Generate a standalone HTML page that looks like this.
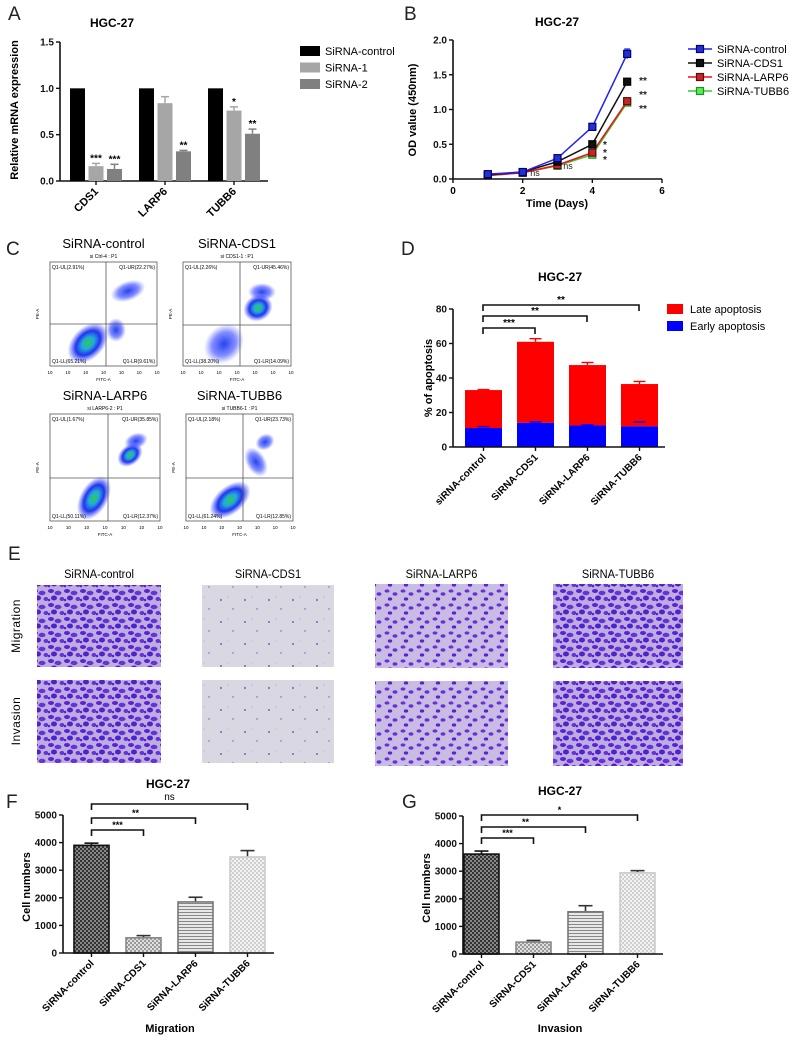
<!DOCTYPE html>
<html><head><meta charset="utf-8">
<style>
html,body{margin:0;padding:0;background:#fff;}
svg{display:block;font-family:"Liberation Sans",Arial,sans-serif;}
</style></head>
<body>
<svg id="fig" width="795" height="1044" viewBox="0 0 795 1044" xmlns="http://www.w3.org/2000/svg">
<defs>
<pattern id="pDark" width="4" height="4" patternUnits="userSpaceOnUse"><rect width="4" height="4" fill="#888"/><rect width="2" height="2" fill="#333"/><rect x="2" y="2" width="2" height="2" fill="#333"/></pattern>
<pattern id="pLight" width="4" height="4" patternUnits="userSpaceOnUse"><rect width="4" height="4" fill="#e0e0e0"/><rect width="2" height="2" fill="#999"/><rect x="2" y="2" width="2" height="2" fill="#999"/></pattern>
<pattern id="pStripe" width="4" height="3" patternUnits="userSpaceOnUse"><rect width="4" height="3" fill="#e8e8e8"/><rect width="4" height="1" fill="#888"/></pattern>
<pattern id="pVLight" width="4" height="4" patternUnits="userSpaceOnUse"><rect width="4" height="4" fill="#f2f2f2"/><rect width="2" height="2" fill="#cfcfcf"/><rect x="2" y="2" width="2" height="2" fill="#cfcfcf"/></pattern>
<pattern id="mDense" width="16" height="14" patternUnits="userSpaceOnUse"><rect width="16" height="14" fill="#bcaee0"/><ellipse cx="3" cy="3" rx="3" ry="2" fill="#5a22d0"/><ellipse cx="10" cy="5" rx="3.5" ry="2.2" fill="#6a30d8"/><ellipse cx="6" cy="10" rx="3" ry="2.5" fill="#5020c8"/><ellipse cx="14" cy="11" rx="2.5" ry="2" fill="#6a30d8"/><circle cx="1" cy="12" r="1.3" fill="#5a22d0"/></pattern>
<pattern id="mMed" width="16" height="14" patternUnits="userSpaceOnUse"><rect width="16" height="14" fill="#c8bce4"/><ellipse cx="3" cy="3" rx="2.5" ry="1.6" fill="#6a30d8"/><ellipse cx="11" cy="6" rx="2.5" ry="1.8" fill="#6a30d8"/><ellipse cx="6" cy="11" rx="2.2" ry="1.6" fill="#5a22d0"/></pattern>
<pattern id="mSparse" width="24" height="22" patternUnits="userSpaceOnUse"><rect width="24" height="22" fill="#d9d7e2"/><circle cx="5" cy="6" r="0.9" fill="#5a3cc0"/><circle cx="17" cy="15" r="0.7" fill="#7060b0"/><circle cx="12" cy="3" r="0.5" fill="#9c96b8"/></pattern>
<radialGradient id="flowG"><stop offset="0" stop-color="#33cc44"/><stop offset="0.3" stop-color="#22aadd"/><stop offset="0.6" stop-color="#2233ee"/><stop offset="1" stop-color="#3344ff" stop-opacity="0"/></radialGradient>
<radialGradient id="flowB"><stop offset="0" stop-color="#2244ee"/><stop offset="0.6" stop-color="#3344ff" stop-opacity="0.6"/><stop offset="1" stop-color="#5566ff" stop-opacity="0"/></radialGradient>
</defs>
</svg>
<script>
// ---------- Panel A data ----------
const aCats=['CDS1','LARP6','TUBB6'];
const aSeries=['SiRNA-control','SiRNA-1','SiRNA-2'];
const aCtrl=[1,1,1];
const aSi1=[0.16,0.84,0.76];
const aSi2=[0.13,0.32,0.51];
const aErr1=[0.03,0.07,0.04];
const aErr2=[0.05,0.01,0.05];
const aStars1=['***','','*'];
const aStars2=['***','**','**'];
const aTicks=[0,0.5,1.0,1.5];
// ---------- Panel B data ----------
const bDays=[1,2,3,4,5];
const bSeries=['SiRNA-control','SiRNA-CDS1','SiRNA-LARP6','SiRNA-TUBB6'];
const bCtrl=[0.07,0.1,0.3,0.75,1.8];
const bCDS1=[0.06,0.1,0.25,0.5,1.4];
const bLARP6=[0.05,0.09,0.2,0.38,1.12];
const bTUBB6=[0.05,0.09,0.19,0.35,1.1];
const bErrCtrl=[0.01,0.01,0.03,0.05,0.07];
const bXTicks=[0,2,4,6];
const bYTicks=[0,0.5,1.0,1.5,2.0];
// ---------- Panel D data ----------
const dCats=['siRNA-control','SiRNA-CDS1','SiRNA-LARP6','SiRNA-TUBB6'];
const dEarly=[11,14,12.5,12];
const dLate=[22,47,35,24.5];
const dErrTot=[0.3,1.8,1.5,1.5];
const dErrEarly=[0.8,0.5,0.3,2.5];
const dTicks=[0,20,40,60,80];
const dSig=['***','**','**'];
// ---------- Panel F / G data ----------
const fgCats=['SiRNA-control','SiRNA-CDS1','SiRNA-LARP6','SiRNA-TUBB6'];
const fVals=[3900,550,1850,3480];
const fErr=[80,80,170,230];
const fSig=['***','**','ns'];
const gVals=[3620,430,1530,2940];
const gErr=[110,60,220,80];
const gSig=['***','**','*'];
const fgTicks=[0,1000,2000,3000,4000,5000];

const NS='http://www.w3.org/2000/svg';
const svg=document.getElementById('fig');
function mk(tag,attrs,parent){const e=document.createElementNS(NS,tag);for(const k in attrs)e.setAttribute(k,attrs[k]);(parent||svg).appendChild(e);return e;}
function tx(x,y,s,attrs,parent){const e=mk('text',Object.assign({x:x,y:y},attrs||{}),parent);e.textContent=s;return e;}
function grp(){return mk('g',{});}

[['A',8,20],['B',404,20],['C',6,255],['D',401,255],['E',8,560],['F',6,808],['G',402,808]].forEach(l=>{
  const t=tx(l[1],l[2],l[0],{'font-size':19,fill:'#222'});
  
  
});

function yAxis(g,x,yFn,ticks,fmt,top,bottom){
  const ax=mk('line',{x1:x,y1:top,x2:x,y2:bottom,stroke:'#111','stroke-width':1.6},g);
  
  
  ticks.forEach(v=>{
    const y=yFn(v);
    mk('line',{x1:x-4,y1:y,x2:x,y2:y,stroke:'#111','stroke-width':1.4},g);
    const t=tx(x-6,y+3.5,fmt(v),{'font-size':10,'font-weight':'bold','text-anchor':'end',fill:'#111'},g);
    
    
  });
}

// ================= Panel A =================
(function(){
  const g=grp();
  
  
  const yA=v=>181-v/1.5*139;
  const t=tx(112,27,'HGC-27',{'font-size':12,'font-weight':'bold','text-anchor':'middle'},g);
  
  
  yAxis(g,60,yA,aTicks,v=>v.toFixed(1),42,181);
  const xl=mk('line',{x1:60,y1:181,x2:268,y2:181,stroke:'#111','stroke-width':1.6},g);
  
  
  const yl=tx(0,0,'Relative mRNA expression',{'font-size':11,'font-weight':'bold','text-anchor':'middle',transform:'translate(18,110) rotate(-90)'},g);
  
  
  const cols=['#000','#a6a6a6','#808080'];
  const vals=[aCtrl,aSi1,aSi2], errs=[null,aErr1,aErr2], stars=[null,aStars1,aStars2];
  aCats.forEach((c,i)=>{
    const gx=70+i*69;
    vals.forEach((arr,s)=>{
      const bx=gx+s*18.5, v=arr[i];
      const r=mk('rect',{x:bx,y:yA(v),width:15,height:181-yA(v),fill:cols[s]},g);
      
      
      if(errs[s]){
        const e=errs[s][i], cx=bx+7.5;
        mk('line',{x1:cx,y1:yA(v),x2:cx,y2:yA(v+e),stroke:cols[s],'stroke-width':1.5},g);
        mk('line',{x1:cx-4,y1:yA(v+e),x2:cx+4,y2:yA(v+e),stroke:cols[s],'stroke-width':1.5},g);
        if(stars[s][i]){const st=tx(cx,yA(v+e)-2,stars[s][i],{'font-size':10,'font-weight':'bold','text-anchor':'middle'},g);
          
          }
      }
    });
    const tkx=gx+26;
    mk('line',{x1:tkx,y1:181,x2:tkx,y2:185,stroke:'#111','stroke-width':1.4},g);
    const lb=tx(0,0,c,{'font-size':11,'font-weight':'bold','text-anchor':'end',transform:`translate(${tkx+3},${192}) rotate(-45)`},g);
    
    
  });
  aSeries.forEach((s,i)=>{
    const r=mk('rect',{x:300,y:46+i*16.5,width:20,height:10,fill:cols[i]},g);
    
    
    const t2=tx(325,55+i*16.5,s,{'font-size':11},g);
    
    
  });
})();

// ================= Panel B =================
(function(){
  const g=grp();
  
  
  const xB=d=>453+d/6*209, yB=v=>179-v/2*139;
  const t=tx(557,26,'HGC-27',{'font-size':12,'font-weight':'bold','text-anchor':'middle'},g);
  
  
  yAxis(g,453,yB,bYTicks,v=>v.toFixed(1),40,179);
  const xl=mk('line',{x1:453,y1:179,x2:662,y2:179,stroke:'#111','stroke-width':1.6},g);
  
  
  bXTicks.forEach(d=>{
    mk('line',{x1:xB(d),y1:179,x2:xB(d),y2:183,stroke:'#111','stroke-width':1.4},g);
    const l=tx(xB(d),194,String(d),{'font-size':10,'font-weight':'bold','text-anchor':'middle'},g);
    
    
  });
  const xt=tx(557,207,'Time (Days)',{'font-size':11,'font-weight':'bold','text-anchor':'middle'},g);
  
  
  const yt=tx(0,0,'OD value (450nm)',{'font-size':11,'font-weight':'bold','text-anchor':'middle',transform:'translate(416,110) rotate(-90)'},g);
  
  
  const sets=[[bTUBB6,'#33cc33','#55ee55','#2a8a2a'],[bLARP6,'#ee1111','#cc2222','#551111'],[bCDS1,'#111','#111','#000'],[bCtrl,'#2222ee','#2233cc','#000080']];
  bDays.forEach((d,i)=>{
    const e=bErrCtrl[i],v=bCtrl[i];
    mk('line',{x1:xB(d),y1:yB(v-e),x2:xB(d),y2:yB(v+e),stroke:'#2222ee','stroke-width':1.3},g);
    mk('line',{x1:xB(d)-3,y1:yB(v+e),x2:xB(d)+3,y2:yB(v+e),stroke:'#2222ee','stroke-width':1.3},g);
  });
  sets.forEach((s,k)=>{
    const pts=bDays.map((d,i)=>xB(d)+','+yB(s[0][i])).join(' ');
    const pl=mk('polyline',{points:pts,fill:'none',stroke:s[1],'stroke-width':1.5},g);
    
    
    bDays.forEach((d,i)=>{
      const m=mk('rect',{x:xB(d)-3.5,y:yB(s[0][i])-3.5,width:7,height:7,fill:s[2],stroke:s[3],'stroke-width':1.2},g);
      
      
    });
  });
  [['ns',535,176],['ns',568,169],['*',605,148],['*',605,156],['*',605,163],['**',643,84],['**',643,98],['**',643,112]].forEach(a=>{
    const s=tx(a[1],a[2],a[0],{'font-size':a[0]=='ns'?9:10,'font-weight':a[0]=='ns'?'normal':'bold','text-anchor':'middle',fill:'#222'},g);
    
    
  });
  const lc=['#2222ee','#111','#ee1111','#33cc33'], mc=['#2233cc','#111','#cc2222','#55ee55'], bc=['#000080','#000','#551111','#2a8a2a'];
  bSeries.forEach((s,i)=>{
    const y=49+i*14;
    mk('line',{x1:688,y1:y,x2:712,y2:y,stroke:lc[i],'stroke-width':1.5},g);
    mk('rect',{x:696.5,y:y-3.5,width:7,height:7,fill:mc[i],stroke:bc[i],'stroke-width':1.2},g);
    const t2=tx(717,y+4,s,{'font-size':11},g);
    
    
  });
})();

// ================= Panel C (flow plots) =================
(function(){
  const plots=[
    {t:'SiRNA-control',s:'si Ctrl-4 : P1',x:50,y:262,w:107,h:104,vx:106,hy:324,q:['Q1-UL(2.91%)','Q1-UR(22.27%)','Q1-LL(65.21%)','Q1-LR(9.61%)'],
     blobs:[[88,343,24,16,-45,'flowG'],[128,291,18,10,-20,'flowB'],[116,330,10,12,0,'flowB']]},
    {t:'SiRNA-CDS1',s:'si CDS1-1 : P1',x:183,y:262,w:108,h:104,vx:240,hy:325,q:['Q1-UL(2.26%)','Q1-UR(45.46%)','Q1-LL(38.20%)','Q1-LR(14.09%)'],
     blobs:[[224,344,22,18,-45,'flowB'],[258,308,15,13,-30,'flowG'],[262,292,14,9,0,'flowB']]},
    {t:'SiRNA-LARP6',s:'si LARP6-2 : P1',x:50,y:414,w:110,h:107,vx:108,hy:478,q:['Q1-UL(1.67%)','Q1-UR(35.85%)','Q1-LL(50.11%)','Q1-LR(12.37%)'],
     blobs:[[94,498,24,14,-60,'flowG'],[130,455,14,10,-40,'flowG'],[136,441,12,8,-20,'flowB']]},
    {t:'SiRNA-TUBB6',s:'si TUBB6-1 : P1',x:186,y:414,w:107,h:107,vx:243,hy:478,q:['Q1-UL(2.18%)','Q1-UR(23.73%)','Q1-LL(61.24%)','Q1-LR(12.85%)'],
     blobs:[[230,500,24,14,-40,'flowG'],[256,462,10,16,-30,'flowB'],[265,442,10,8,-30,'flowB']]}
  ];
  plots.forEach(p=>{
    const g=grp();
    
    
    const t=tx(p.x+p.w/2,p.y-14,p.t,{'font-size':13,'text-anchor':'middle'},g);
    
    
    tx(p.x+p.w/2,p.y-4,p.s,{'font-size':5,'text-anchor':'middle'},g);
    p.blobs.forEach(b=>{
      mk('ellipse',{cx:b[0],cy:b[1],rx:b[2],ry:b[3],fill:`url(#${b[5]})`,transform:`rotate(${b[4]} ${b[0]} ${b[1]})`},g);
    });
    mk('rect',{x:p.x,y:p.y,width:p.w,height:p.h,fill:'none',stroke:'#555','stroke-width':0.8},g);
    mk('line',{x1:p.vx,y1:p.y,x2:p.vx,y2:p.y+p.h,stroke:'#555','stroke-width':0.8},g);
    mk('line',{x1:p.x,y1:p.hy,x2:p.x+p.w,y2:p.hy,stroke:'#555','stroke-width':0.8},g);
    tx(p.x+2,p.y+7,p.q[0],{'font-size':5},g);
    tx(p.x+p.w-2,p.y+7,p.q[1],{'font-size':5,'text-anchor':'end'},g);
    tx(p.x+2,p.y+p.h-3,p.q[2],{'font-size':5},g);
    tx(p.x+p.w-2,p.y+p.h-3,p.q[3],{'font-size':5,'text-anchor':'end'},g);
    for(let k=0;k<7;k++){tx(p.x+k*p.w/6,p.y+p.h+8,'10',{'font-size':4.5,'text-anchor':'middle'},g);}
    tx(p.x+p.w/2,p.y+p.h+15,'FITC-A',{'font-size':4.5,'text-anchor':'middle'},g);
    tx(0,0,'PE-A',{'font-size':4.5,'text-anchor':'middle',transform:`translate(${p.x-11},${p.y+p.h/2}) rotate(-90)`},g);
  });
})();

// ================= Panel D =================
(function(){
  const g=grp();
  
  
  const yD=v=>447-v/80*138;
  const t=tx(560,281,'HGC-27',{'font-size':12,'font-weight':'bold','text-anchor':'middle'},g);
  
  
  yAxis(g,453,yD,dTicks,v=>String(v),309,447);
  const yt=tx(0,0,'% of apoptosis',{'font-size':11,'font-weight':'bold','text-anchor':'middle',transform:'translate(432,378) rotate(-90)'},g);
  
  
  dCats.forEach((c,i)=>{
    const bx=465+i*52, cx=bx+18.5, tot=dEarly[i]+dLate[i];
    const r1=mk('rect',{x:bx,y:yD(tot),width:37,height:yD(dEarly[i])-yD(tot),fill:'#ff0000'},g);
    
    
    mk('line',{x1:cx,y1:yD(tot),x2:cx,y2:yD(tot+dErrTot[i]),stroke:'#ff0000','stroke-width':1.4},g);
    mk('line',{x1:cx-6,y1:yD(tot+dErrTot[i]),x2:cx+6,y2:yD(tot+dErrTot[i]),stroke:'#ff0000','stroke-width':1.4},g);
    const r2=mk('rect',{x:bx,y:yD(dEarly[i]),width:37,height:447-yD(dEarly[i]),fill:'#0000ff'},g);
    
    
    mk('line',{x1:cx-6,y1:yD(dEarly[i]+dErrEarly[i]),x2:cx+6,y2:yD(dEarly[i]+dErrEarly[i]),stroke:'#0000ff','stroke-width':1.4},g);
    mk('line',{x1:cx,y1:447,x2:cx,y2:451,stroke:'#111','stroke-width':1.4},g);
    const lb=tx(0,0,c,{'font-size':10,'font-weight':'bold','text-anchor':'end',transform:`translate(${cx+3},${458}) rotate(-45)`},g);
    
    
  });
  const xl=mk('line',{x1:453,y1:447,x2:665,y2:447,stroke:'#111','stroke-width':1.6},g);
  
  
  const bys=[328,316,305];
  dSig.forEach((s,k)=>{
    const x2=483+(k+1)*52, y=bys[k];
    const p=mk('path',{d:`M483,${y+6}V${y}H${x2}V${y+6}`,fill:'none',stroke:'#111','stroke-width':1.6},g);
    
    
    tx(483+(k===0?26:((x2-483)/2)),y-2,s,{'font-size':10,'font-weight':'bold','text-anchor':'middle'},g);
  });
  [['Late apoptosis','#ff0000',304],['Early apoptosis','#0000ff',321]].forEach(l=>{
    const r=mk('rect',{x:667,y:l[2],width:16,height:10,fill:l[1]},g);
    
    
    const t2=tx(690,l[2]+9,l[0],{'font-size':11},g);
    
    
  });
})();

// ================= Panel E (micrographs) =================
(function(){
  const g=grp();
  
  
  const cols=[['SiRNA-control',37,161,'mDense'],['SiRNA-CDS1',202,334,'mSparse'],['SiRNA-LARP6',375,508,'mMed'],['SiRNA-TUBB6',553,683,'mDense']];
  const rows=[[585,667],[680,763]];
  cols.forEach((c,i)=>{
    const t=tx((c[1]+c[2])/2,578,c[0],{'font-size':12,'text-anchor':'middle','transform':`translate(${(c[1]+c[2])/2*0.08},0) scale(0.92,1)`},g);
    
    
    rows.forEach((r,j)=>{
      const yy=r[0]+(i>=2?(j===0?-1:1):0);
      const im=mk('rect',{x:c[1],y:yy,width:c[2]-c[1],height:r[1]-r[0]+(i>=2?2:0),fill:`url(#${c[3]})`},g);
      
      
    });
  });
  const m=tx(0,0,'Migration',{'font-size':12,'text-anchor':'middle',transform:'translate(20,626) rotate(-90)','letter-spacing':'0.5'},g);
  
  
  const v=tx(0,0,'Invasion',{'font-size':12,'text-anchor':'middle',transform:'translate(20,721) rotate(-90)','letter-spacing':'0.5'},g);
  
  
})();

// ================= Panels F & G =================
function cellChart(name,ax,top,base,xEnd,x0,vals,errs,sigs,bys,titleX,titleY,xTitle,xTitleX){
  const g=grp();
  
  
  const yF=v=>base-v/5000*(base-top);
  const t=tx(titleX,titleY,'HGC-27',{'font-size':12,'font-weight':'bold','text-anchor':'middle'},g);
  
  
  yAxis(g,ax,yF,fgTicks,v=>String(v),top,base);
  const yt=tx(0,0,'Cell numbers',{'font-size':11,'font-weight':'bold','text-anchor':'middle',transform:`translate(${ax-33},${(top+base)/2+3}) rotate(-90)`},g);
  
  
  const fills=['url(#pDark)','url(#pLight)','url(#pStripe)','url(#pVLight)'];
  const strokes=['#111','#888','#777','#ccc'];
  fgCats.forEach((c,i)=>{
    const bx=x0+i*52, cx=bx+17.5;
    const e=yF(vals[i]+errs[i]);
    mk('line',{x1:cx,y1:yF(vals[i]),x2:cx,y2:e,stroke:i===0?'#111':'#333','stroke-width':1.6},g);
    mk('line',{x1:cx-7,y1:e,x2:cx+7,y2:e,stroke:i===0?'#111':'#333','stroke-width':1.6},g);
    const r=mk('rect',{x:bx,y:yF(vals[i]),width:35,height:base-yF(vals[i]),fill:fills[i],stroke:strokes[i],'stroke-width':1.6},g);
    
    
    mk('line',{x1:cx,y1:base,x2:cx,y2:base+4,stroke:'#111','stroke-width':1.4},g);
    const lb=tx(0,0,c,{'font-size':10,'font-weight':'bold','text-anchor':'end',transform:`translate(${cx+3},${base+11}) rotate(-45)`},g);
    
    
  });
  const xl=mk('line',{x1:ax,y1:base,x2:xEnd,y2:base,stroke:'#111','stroke-width':1.6},g);
  
  
  const sx=x0+17.5;
  sigs.forEach((s,k)=>{
    const x2=sx+(k+1)*52, y=bys[k];
    const p=mk('path',{d:`M${sx},${y+6}V${y}H${x2}V${y+6}`,fill:'none',stroke:'#111','stroke-width':1.6},g);
    
    
    tx(sx+(k===0?26:(k===1?44:(x2-sx)/2)),y-(s==='ns'?4:2),s,{'font-size':s==='ns'?10:9,'font-weight':s==='ns'?'normal':'bold','text-anchor':'middle'},g);
  });
  const xt=tx(xTitleX,1032,xTitle,{'font-size':11,'font-weight':'bold','text-anchor':'middle'},g);
  
  
}
cellChart('panel-f-migration-chart',63,815,953,274,74,fVals,fErr,fSig,[830,818,804],168,788,'Migration',170);
cellChart('panel-g-invasion-chart',463,816,954,663,464,gVals,gErr,gSig,[838,827,815],560,795,'Invasion',560);
</script>
</body></html>
